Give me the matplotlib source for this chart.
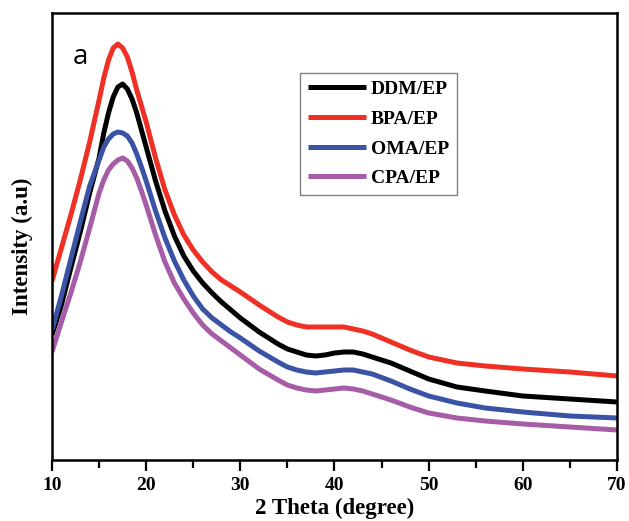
import numpy as np
import matplotlib.pyplot as plt
from matplotlib.ticker import MultipleLocator

# 2 theta grid (degree)
two_theta = [10, 11, 12, 13, 14, 15, 15.5, 16, 16.5, 17, 17.5, 18, 18.5, 19, 19.5, 20,
             21, 22, 23, 24, 25, 26, 27, 28, 29, 30,
             32, 34, 35, 36, 37, 38, 39, 40, 41, 42, 43, 44,
             46, 48, 50, 53, 56, 60, 65, 70]

# intensities (a.u)
ddm_ep = [125, 155, 192, 228, 267, 302, 327, 347, 363, 373, 376, 371, 361, 347, 330, 313,
          279, 249, 224, 204, 189, 177, 167, 158, 150, 142,
          128, 116, 111, 108, 105, 104, 105, 107, 108, 108, 106, 103,
          97, 89, 81, 73, 69, 64, 61, 58]
bpa_ep = [179, 212, 245, 280, 318, 360, 382, 400, 412, 416, 412, 403, 388, 370, 354, 338,
          302, 270, 245, 225, 210, 198, 188, 180, 174, 168,
          155, 143, 138, 135, 133, 133, 133, 133, 133, 131, 129, 126,
          118, 110, 103, 97, 94, 91, 88, 84]
oma_ep = [130, 164, 201, 238, 274, 300, 313, 321, 326, 328, 327, 324, 317, 306, 293, 279,
          249, 222, 199, 180, 164, 151, 142, 135, 128, 122,
          109, 98, 93, 90, 88, 87, 88, 89, 90, 90, 88, 86,
          79, 71, 64, 57, 52, 48, 44, 42]
cpa_ep = [108, 138, 167, 198, 232, 267, 280, 290, 296, 300, 302, 299, 292, 282, 269, 255,
          225, 198, 177, 161, 147, 135, 126, 119, 112, 105,
          91, 80, 75, 72, 70, 69, 70, 71, 72, 71, 69, 66,
          60, 53, 47, 42, 39, 36, 33, 30]

labels = ["DDM/EP", "BPA/EP", "OMA/EP", "CPA/EP"]
colors = ["#000000", "#EE3124", "#3B53A4", "#A65CA6"]

plt.rcParams["font.family"] = ["Liberation Serif", "DejaVu Serif"]

fig = plt.figure(figsize=(6.29, 5.21), dpi=100)
ax = fig.add_axes([52 / 629, 61 / 521, 565 / 629, 447 / 521])

for series, label, color in zip([ddm_ep, bpa_ep, oma_ep, cpa_ep], labels, colors):
    ax.plot(two_theta, series, color=color, lw=3.6, label=label,
            solid_capstyle="butt", solid_joinstyle="round")

ax.set_xlim(10, 70)
ax.set_ylim(0, 447)
ax.xaxis.set_major_locator(MultipleLocator(10))
ax.xaxis.set_minor_locator(MultipleLocator(5))
ax.set_yticks([])
ax.tick_params(axis="x", which="major", direction="out", length=8, width=1.6,
               labelsize=14, pad=4)
ax.tick_params(axis="x", which="minor", direction="out", length=5.5, width=1.6)
for lab in ax.get_xticklabels():
    lab.set_fontweight("bold")
for sp in ax.spines.values():
    sp.set_linewidth(1.8)

ax.set_xlabel("2 Theta (degree)", fontsize=16.5, fontweight="bold", labelpad=3)
ax.set_ylabel("Intensity (a.u)", fontsize=16.5, fontweight="bold")
ax.yaxis.set_label_coords(-0.034, 0.479)

ax.text(12.97, 403, "a", fontsize=20, family=["Open Sans", "DejaVu Sans"],
        ha="center", va="center")

leg = ax.legend(loc="upper left", bbox_to_anchor=(0.439, 0.866), borderaxespad=0,
                fancybox=False, edgecolor="#808080", framealpha=1, handlelength=3.0,
                handletextpad=0.25, labelspacing=0.62, borderpad=0.4,
                prop={"weight": "bold", "size": 14})
leg.get_frame().set_linewidth(1.0)

fig.savefig("out.png", dpi=100)
